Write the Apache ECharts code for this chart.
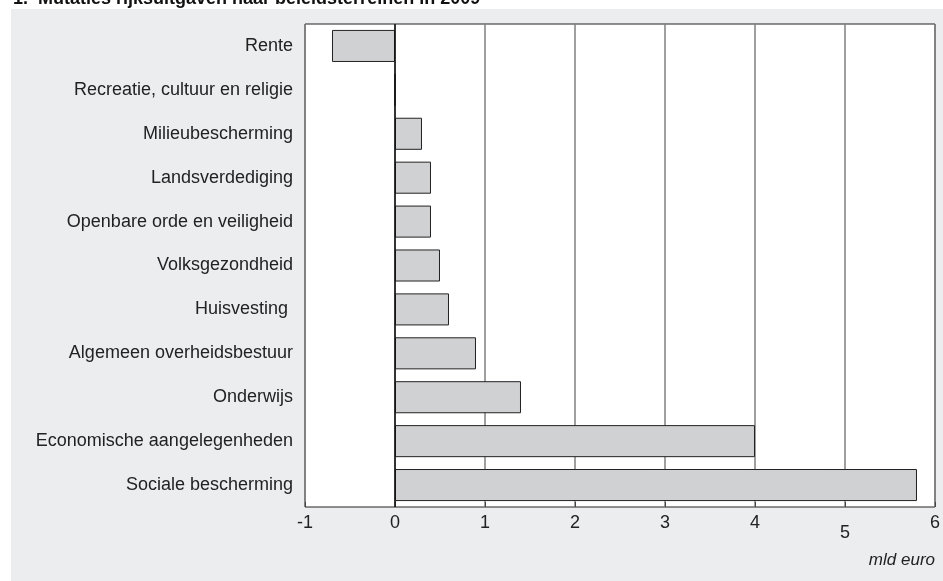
<!DOCTYPE html>
<html>
<head>
<meta charset="utf-8">
<script src="https://cdn.jsdelivr.net/npm/echarts@6/dist/echarts.min.js"></script>
<style>
  html, body { margin: 0; padding: 0; background: #fff; }
  #chart { width: 943px; height: 581px; }
</style>
</head>
<body>
<div id="chart"></div>
<script>
  var categories = [
    'Rente',
    'Recreatie, cultuur en religie',
    'Milieubescherming',
    'Landsverdediging',
    'Openbare orde en veiligheid',
    'Volksgezondheid',
    'Huisvesting ',
    'Algemeen overheidsbestuur',
    'Onderwijs',
    'Economische aangelegenheden',
    'Sociale bescherming'
  ];
  var mutaties = [-0.7, 0, 0.3, 0.4, 0.4, 0.5, 0.6, 0.9, 1.4, 4.0, 5.8];
  var xTicks = [-1, 0, 1, 2, 3, 4, 5, 6];

  var font = '"Liberation Sans", Arial, Helvetica, sans-serif';
  var chart = echarts.init(document.getElementById('chart'));

  chart.setOption({
    animation: false,
    backgroundColor: '#fff',
    graphic: [
      {
        type: 'rect',
        z: -10,
        shape: { x: 11, y: 9, width: 932, height: 572 },
        style: { fill: '#ECEDEF' }
      },
      {
        type: 'text',
        left: 13,
        top: -10,
        style: {
          text: '1.  Mutaties rijksuitgaven naar beleidsterreinen in 2009',
          font: 'bold 18px ' + font,
          fill: '#111'
        }
      },
      {
        type: 'text',
        right: 8,
        top: 552,
        style: {
          text: 'mld euro',
          font: 'italic 17px ' + font,
          fill: '#222'
        }
      }
    ],
    grid: {
      left: 305,
      right: 8,
      top: 24,
      bottom: 74,
      show: true,
      backgroundColor: '#fff',
      borderColor: '#222',
      borderWidth: 1
    },
    xAxis: {
      type: 'value',
      min: xTicks[0],
      max: xTicks[xTicks.length - 1],
      interval: 1,
      axisLine: { show: false },
      axisTick: { show: true, inside: true, length: 5, lineStyle: { color: '#444' } },
      splitLine: { show: true, lineStyle: { color: '#7f7f7f', width: 1.5 } },
      axisLabel: {
        margin: 7,
        fontFamily: font,
        fontSize: 18,
        color: '#222',
        formatter: function (v) {
          return v === 5 ? '{low|5}' : String(v);
        },
        rich: {
          low: { fontFamily: font, fontSize: 18, color: '#222', padding: [10, 0, 0, 0] }
        }
      }
    },
    yAxis: {
      type: 'category',
      inverse: true,
      data: categories,
      axisLine: { show: false, onZero: false },
      axisTick: { show: false },
      axisLabel: {
        margin: 12,
        fontFamily: font,
        fontSize: 18,
        color: '#222'
      }
    },
    series: [{
      type: 'bar',
      data: mutaties,
      barCategoryGap: '27%',
      itemStyle: {
        color: '#D0D1D3',
        borderColor: '#222',
        borderWidth: 1
      },
      markLine: {
        silent: true,
        symbol: 'none',
        label: { show: false },
        lineStyle: { color: '#111', width: 1.5, type: 'solid' },
        data: [{ xAxis: 0 }]
      }
    }]
  });
</script>
</body>
</html>
